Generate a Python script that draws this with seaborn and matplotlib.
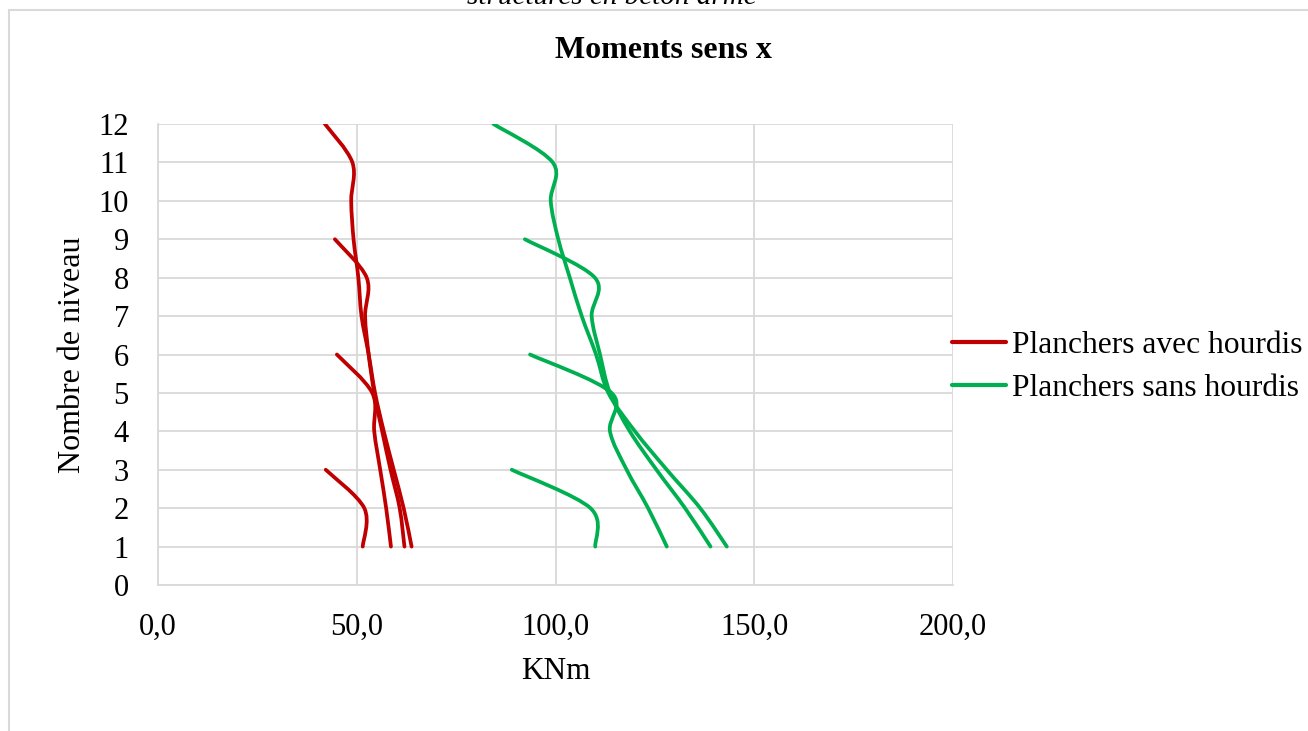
import numpy as np
import pandas as pd
import matplotlib
matplotlib.use("Agg")
import matplotlib.pyplot as plt
from matplotlib.path import Path
from matplotlib.patches import PathPatch, Rectangle
import seaborn as sns

# ---------------- data ----------------
series_names = ["Planchers avec hourdis", "Planchers sans hourdis"]
series_colors = ["#C00000", "#00B050"]

# moments (KNm) at levels 1..n for buildings of 3, 6, 9 and 12 levels
avec_3 = [51.5, 51.9, 42.2]
avec_6 = [58.6, 57.4, 55.9, 54.4, 53.9, 45.0]
avec_9 = [62.0, 60.8, 58.5, 56.4, 54.4, 53.0, 52.1, 52.5, 44.5]
avec_12 = [63.8, 61.8, 59.3, 56.8, 54.6, 53.0, 51.2, 50.4, 49.2, 48.6, 48.9, 42.0]

sans_3 = [110.0, 108.8, 89.0]
sans_6 = [128.0, 123.3, 117.9, 113.7, 114.1, 93.6]
sans_9 = [139.0, 132.6, 125.4, 118.7, 113.7, 111.2, 109.1, 109.9, 92.3]
sans_12 = [143.1, 136.4, 128.0, 120.0, 113.3, 110.2, 106.6, 103.6, 100.7, 98.8, 99.3, 84.4]

x_ticks = [0, 50, 100, 150, 200]
x_tick_labels = ["0,0", "50,0", "100,0", "150,0", "200,0"]
y_ticks = list(range(0, 13))

title = "Moments sens x"
x_label = "KNm"
y_label = "Nombre de niveau"
caption = "structures en béton armé"

# ---------------- build long table ----------------
rows = []
groups = {series_names[0]: [avec_3, avec_6, avec_9, avec_12],
          series_names[1]: [sans_3, sans_6, sans_9, sans_12]}
for name, curves in groups.items():
    for ci, vals in enumerate(curves):
        for lvl, v in enumerate(vals, start=1):
            rows.append({"serie": name, "courbe": f"{name}-{ci}", "KNm": v, "niveau": lvl})
df = pd.DataFrame(rows)

# ---------------- style ----------------
sns.set_theme(style="whitegrid")
plt.rcParams["font.family"] = ["Liberation Serif", "DejaVu Serif"]
plt.rcParams["text.color"] = "black"
plt.rcParams["axes.labelcolor"] = "black"

W, H = 1308, 731
LW = 2.7
fig = plt.figure(figsize=(W / 100, H / 100), dpi=100)
ax = fig.add_axes([158 / W, 1 - 585 / H, (953 - 158) / W, (585 - 124) / H])

palette = dict(zip(series_names, series_colors))
sns.lineplot(data=df, x="KNm", y="niveau", hue="serie", units="courbe",
             estimator=None, sort=False, palette=palette, linewidth=LW, ax=ax)

ax.set_xlim(0, 200)
ax.set_ylim(0, 12)


def excel_smooth_path(P):
    """Excel-like smoothed line (Bezier segments), computed in display space."""
    n = len(P)
    verts = [P[0]]
    codes = [Path.MOVETO]
    for i in range(n - 1):
        p0 = P[i - 1] if i > 0 else P[i]
        p1 = P[i]
        p2 = P[i + 1]
        p3 = P[i + 2] if i + 2 < n else P[i + 1]
        d02 = np.hypot(*(p2 - p0))
        d12 = np.hypot(*(p2 - p1))
        d13 = np.hypot(*(p3 - p1))
        f1 = f2 = 1.0 / 6.0
        if not (d02 / 6 < d12 / 2 and d13 / 6 < d12 / 2):
            if d02 > 0 and d02 / 6 >= d12 / 2:
                f1 = d12 / d02 / 2
            if d13 > 0 and d13 / 6 >= d12 / 2:
                f2 = d12 / d13 / 2
        c1 = p1 + (p2 - p0) * f1
        c2 = p2 - (p3 - p1) * f2
        verts += [c1, c2, p2]
        codes += [Path.CURVE4] * 3
    return np.array(verts), codes


# replace straight polylines by smoothed curves
inv = ax.transData.inverted()
for ln in list(ax.lines):
    xd = np.asarray(ln.get_xdata(), float)
    yd = np.asarray(ln.get_ydata(), float)
    col = ln.get_color()
    ln.set_visible(False)
    if len(xd) < 2:
        continue
    Pd = ax.transData.transform(np.column_stack([xd, yd]))
    verts, codes = excel_smooth_path(Pd)
    verts = inv.transform(verts)
    patch = PathPatch(Path(verts, codes), facecolor="none", edgecolor=col,
                      lw=LW, capstyle="round", joinstyle="round", zorder=3)
    ax.add_patch(patch)

ax.set_xticks(x_ticks)
ax.set_xticklabels(x_tick_labels)
ax.set_yticks(y_ticks)
ax.tick_params(axis="both", length=0, labelsize=22, colors="black")
ax.tick_params(axis="x", pad=20)
ax.tick_params(axis="y", pad=21)
ax.grid(True, color="#d9d9d9", lw=1.3)
for s in ["top", "right"]:
    ax.spines[s].set_visible(False)
for s in ["left", "bottom"]:
    ax.spines[s].set_color("#d9d9d9")
    ax.spines[s].set_linewidth(1.3)
ax.set_facecolor("white")
ax.set_xlabel(x_label, fontsize=22.5, labelpad=11, color="black")
ax.set_ylabel(y_label, fontsize=23, labelpad=8, color="black")

# legend
sns.move_legend(ax, loc="center left", bbox_to_anchor=(952 / W, 1 - 367 / H),
                bbox_transform=fig.transFigure, frameon=False, title=None,
                fontsize=22.7, handlelength=1.72, handletextpad=0.17,
                labelspacing=0.42, borderpad=0, borderaxespad=0)
leg = ax.get_legend()
for h in leg.get_lines():
    h.set_linewidth(3)

# title and outer chart-area frame
fig.text(663 / W, 1 - 50 / H, title, ha="center", va="center",
         fontsize=23, fontweight="bold")
fig.text(612 / W, 1 - 4 / H, caption, ha="center", va="baseline",
         fontsize=21, fontstyle="italic")
fig.patches.append(Rectangle((9 / W, -0.2), 2.0, 1.2 - 10 / H,
                             transform=fig.transFigure, facecolor="none",
                             edgecolor="#d9d9d9", lw=1.5, zorder=0))

fig.savefig("out.png", dpi=100, facecolor="white")
